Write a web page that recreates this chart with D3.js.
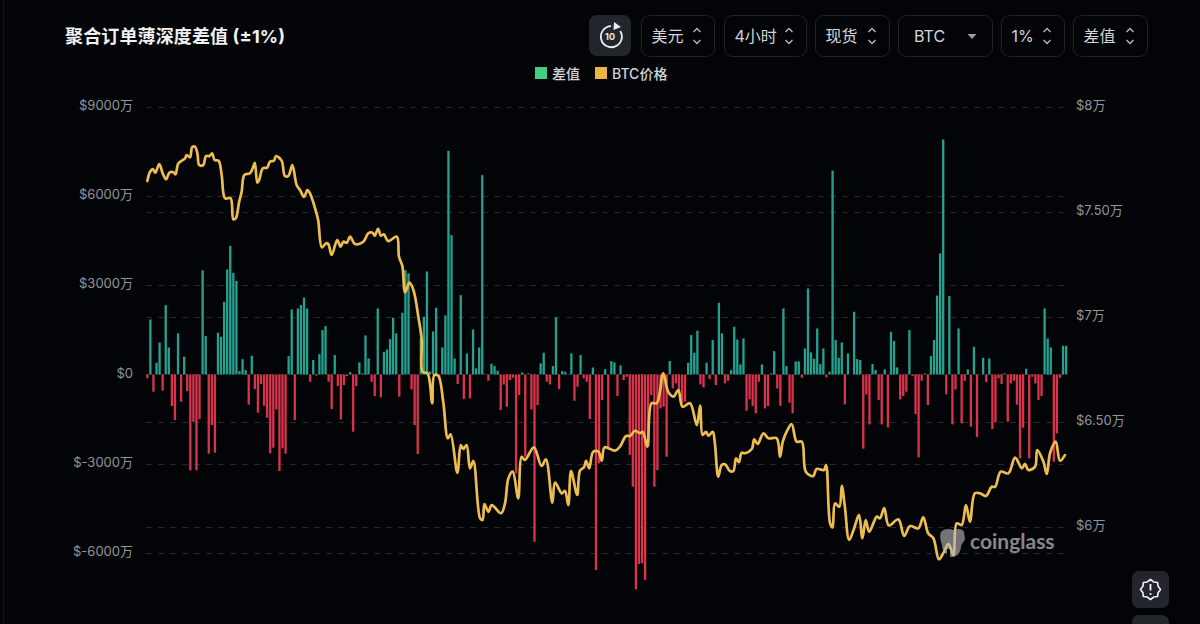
<!DOCTYPE html>
<html lang="zh">
<head>
<meta charset="utf-8">
<title>聚合订单薄深度差值</title>
<script src="https://cdn.jsdelivr.net/npm/d3@7/dist/d3.min.js"></script>
<style>
  html, body { margin: 0; padding: 0; background: #030408; }
  svg { display: block; font-family: Inter, "Noto Sans CJK SC", sans-serif; }
</style>
</head>
<body>
<svg id="chart" width="1200" height="624"></svg>
<script>
// Order-book depth delta per 4h bucket, in units of 万 USD
const deltaValues = [
  -130,1848,-582,392,1075,-549,2330,907,-1064,-1534,
  1378,-918,594,-560,-3226,-1590,-3226,-1500,3500,1288,
  -2666,-1702,-2632,1400,1266,2442,3530,4320,3414,3145,
  112,515,146,-1019,627,-493,-1288,-325,-1053,-1456,
  -2654,-2464,-1176,-3248,-2486,-2666,616,2184,-1534,2218,
  2330,2587,2218,-246,482,-40,683,1490,1624,-246,
  -1165,650,-392,-1512,-358,-60,78,-1926,-392,403,
  34,1310,538,-246,-728,2218,-773,762,840,1187,
  1904,1378,-750,2072,3506,3394,-504,-1702,-2677,1210,
  1938,3461,100,1445,2240,-130,907,1982,7515,4682,
  538,-325,2666,-829,706,-806,1512,202,907,6698,
  0,-213,358,280,123,-1198,-340,-1086,-190,-110,
  -3326,-694,67,-2766,34,-1176,-5622,-1030,370,728,
  -246,-336,280,1915,-493,112,90,0,706,-885,
  -414,650,-134,-246,-1500,235,-6574,-2990,-862,175,
  -2486,448,404,-728,302,-190,-78,-2710,-3774,-7224,
  -6373,-6350,-6910,-2430,-694,-3774,-3214,-1142,-1086,-2766,
  450,-470,-302,-526,-974,-918,392,1322,728,1467,
  -336,-437,392,-157,1154,-358,2408,1378,-302,-213,
  146,1602,1176,336,1210,-1221,-840,-1064,-1310,-246,
  336,-1142,-1064,34,784,-470,-1053,2218,280,-952,
  -1310,437,437,-112,874,2890,739,526,1546,347,
  874,-100,90,6854,1154,560,1075,-1008,706,0,
  2106,515,482,-2498,-672,-1680,347,146,-862,-1680,
  168,-1781,1434,1120,235,-840,-728,-582,1490,-56,
  -1333,-2789,-213,34,-1030,616,1154,2650,4066,7900,
  -672,2632,-1680,-504,1546,-1646,-213,168,-1758,930,
  -2106,0,560,-258,538,-1837,-1613,-134,-325,34,
  -1590,-302,-213,-1019,-2822,-1792,190,-2822,-78,-302,
  -862,-728,2218,1210,907,-2934,-1982,-112,963,963
];

// BTC price turning points: bucket position and USD price
const priceAt = [
  0,0.9,1.8,2.6,3.9,5,6.1,7.2,8.5,9.2,10.1,12.3,12.8,13.9,14.6,15.5,16.3,16.9,18.2,19.1,
  20.2,21.1,21.9,23.2,24.2,25.3,27.1,28,28.8,29.9,30.7,31.6,33.4,34.3,35,35.8,36.4,37.6,39,39.9,
  41.2,41.9,43.7,44.8,45.9,47.2,48.6,49.7,51,52.1,52.9,54.6,55.6,56.8,58.2,58.9,60,61.8,62.9,63.8,
  64.9,66,67.6,70.3,71.9,73.3,74,75.1,76,77,78.4,81.2,81.9,83,83.9,85.3,86.6,88.2,89.3,89.6,
  91.2,92.7,93.4,94.7,96.3,97.8,98.7,100.9,102,102.8,103.9,105,106.1,108.3,109.1,109.7,111,112.1,115.1,116.4,
  117.5,118.9,120.7,121.8,122.9,125.8,128.3,129.7,131.8,132.7,134.9,135.9,137,137.9,139.9,140.8,142.1,142.8,143.8,145.1,
  146.8,147.9,148.8,152.2,153.8,155.8,157.1,158.7,160.3,161.2,162.7,164.1,165.8,167.9,169.5,171.2,172.8,174.2,176.6,178.8,
  179.9,180.7,181.8,182.6,184,184.7,185.8,186.9,188,189.6,190.7,191.6,192.5,193.4,194.5,196.7,197.5,198.6,200.5,202.1,
  204.8,205.9,206.8,208.3,209.7,211.3,213,214.3,216.7,217.8,220.2,220.9,222.2,223,223.8,225.2,226,227,228.4,230,
  231.6,232.7,233.8,234.9,237.4,238.4,239.8,241.3,244.4,246.3,248.2,250.9,252.5,254.1,255.8,257.6,259,260.7,262.3,263.4,
  265,266.4,267.7,269.3,271,272.9,274.8,275.9,277.7,280.2,282.4,284.6,285.6,286.7,288.9,289.6,291.6,292.7,293.8,295.6,
  297,298.6
];
const priceValues = [
  76460,76900,77030,76860,77270,76830,76540,76860,76880,76780,77300,77540,77700,77590,78070,78100,77780,77220,77220,77650,
  77650,77780,77460,77430,76750,75640,75640,74640,74690,75480,75950,76750,76830,77070,77330,76380,76510,77070,77100,77380,
  77430,77650,77430,76700,76700,77220,76270,76030,75710,76030,75880,75160,74600,73300,73500,73460,72940,73650,73330,73570,
  73520,73810,73460,73570,73970,74000,73860,74180,73860,73920,73600,73810,72860,72410,71160,71620,71270,70000,68890,67380,
  67300,65880,67220,67180,65950,64210,64400,62570,63890,63700,63890,62780,63130,60400,60320,61080,60710,61030,60640,61110,
  62300,62620,61350,63330,63180,63780,62890,63210,61140,62100,61590,61710,61030,62650,61510,62670,62830,63140,62780,63570,
  63570,63140,63780,63620,63810,64320,64320,64570,64450,64520,63810,65880,65880,67300,66430,66190,66510,65710,65880,64840,
  65770,64370,64520,64330,64520,63970,62380,62940,62970,62650,62650,63260,63070,63520,63500,63700,64160,63940,64450,64210,
  64210,63330,64050,64600,64880,64050,64050,62620,62410,62750,62700,62940,60160,59970,61110,60950,61940,60950,59370,59920,
  60560,59450,60320,59760,60480,60400,60880,60060,60350,59560,60030,59920,60450,59690,59450,58450,58730,59180,58650,60160,
  60080,61030,60240,61590,61590,61460,61900,61900,62620,62540,63290,62780,62990,62700,62860,63650,63100,62510,63520,64050,
  63140,63410
];

// Axis ticks
const deltaTicks = [9000, 6000, 3000, 0, -3000, -6000];
const priceTicks = [80000, 75000, 70000, 65000, 60000];

// Toolbar and legend wording
const selectors = ["美元", "4小时", "现货", "BTC", "1%", "差值"];
const legendLabels = ["差值", "BTC价格"];

const colors = {
  bg: "#030408", grid: "#26292e", axis: "#93969b", up: "#25a28f", down: "#d9344c",
  line: "#eebd50", legendUp: "#3fcf80", legendLine: "#edb540",
  button: "#22252b", border: "#1f2227", text: "#d2d4d7"
};

const svg = d3.select("#chart");
svg.append("rect").attr("width", 1200).attr("height", 624).attr("fill", colors.bg);
svg.append("line").attr("x1", 3.5).attr("x2", 3.5).attr("y1", 0).attr("y2", 624)
  .attr("stroke", "#15171b");

// Scales
const x = d3.scaleBand().domain(d3.range(deltaValues.length))
  .range([145.76, 1067.66]).paddingInner(0.25).paddingOuter(0.125);
const xPos = d3.scaleLinear().domain([0, deltaValues.length - 1])
  .range([x(0) + x.bandwidth() / 2, x(deltaValues.length - 1) + x.bandwidth() / 2]);
const yDelta = d3.scaleLinear().domain([-6000, 9000]).range([552.9, 106.7]);
const yPrice = d3.scaleLinear().domain([60000, 80000]).range([526.7, 106.7]);

// Dashed grid for both value axes
const grid = svg.append("g").attr("stroke", colors.grid).attr("stroke-dasharray", "6 6");
grid.selectAll(".gl").data(deltaTicks).join("line")
  .attr("x1", 146).attr("x2", 1067)
  .attr("y1", d => Math.round(yDelta(d)) + 0.5).attr("y2", d => Math.round(yDelta(d)) + 0.5);
grid.selectAll(".gr").data(priceTicks.slice(1)).join("line")
  .attr("x1", 146).attr("x2", 1067)
  .attr("y1", d => Math.round(yPrice(d)) + 0.5).attr("y2", d => Math.round(yPrice(d)) + 0.5);

// Axes, labels only
const fmtDelta = d => d === 0 ? "$0" : (d < 0 ? "$-" + (-d) : "$" + d) + "万";
const fmtPrice = d => "$" + d3.format(".2~f")(d / 10000) + (d % 10000 ? "0" : "") + "万";

function axisStyle(g) {
  g.select(".domain").remove();
  g.selectAll(".tick line").remove();
  g.selectAll("text").attr("fill", colors.axis).attr("font-size", 13).attr("y", -1.5)
    .attr("font-family", 'Inter, "Noto Sans CJK SC", sans-serif');
}
svg.append("g").attr("transform", "translate(133,0)")
  .call(d3.axisLeft(yDelta).tickValues(deltaTicks).tickFormat(fmtDelta).tickSize(0).tickPadding(0))
  .call(axisStyle);
svg.append("g").attr("transform", "translate(1076,0)")
  .call(d3.axisRight(yPrice).tickValues(priceTicks).tickFormat(fmtPrice).tickSize(0).tickPadding(0))
  .call(axisStyle);

// Delta bars
svg.append("g").selectAll("rect").data(deltaValues).join("rect")
  .attr("x", (d, i) => x(i))
  .attr("width", x.bandwidth())
  .attr("y", d => yDelta(Math.max(d, 0)))
  .attr("height", d => Math.abs(yDelta(d) - yDelta(0)))
  .attr("fill", d => d >= 0 ? colors.up : colors.down);

// Price line
const priceLine = d3.line()
  .x(d => xPos(d[0])).y(d => yPrice(d[1]))
  .curve(d3.curveCatmullRom.alpha(0.5));
svg.append("path").datum(d3.zip(priceAt, priceValues))
  .attr("d", priceLine)
  .attr("fill", "none").attr("stroke", colors.line)
  .attr("stroke-width", 2.7).attr("stroke-linejoin", "round").attr("stroke-linecap", "round");

// Watermark
const mark = svg.append("g").attr("opacity", 0.62);
mark.append("path")
  .attr("fill", "#b8b8ba")
  .attr("d", "M941 532 C945 528 950 529 953 530 C957 529 962 528 964 532 L965 539 C964 542 962 543 961 546 C961 551 958 557 952 557 L950 557 L950 549 L947 549 L947 554 C944 553 942 549 942 545 C941 541 939 537 941 532 Z");
mark.append("text").attr("x", 970).attr("y", 549).attr("fill", "#d8d8da")
  .attr("font-family", "Lato, Inter, sans-serif").attr("font-size", 21).attr("font-weight", 700)
  .text("coinglass");

// Title
svg.append("text").attr("x", 65).attr("y", 42.5).attr("fill", "#f0f1f2")
  .attr("font-size", 18).attr("font-weight", 700).attr("textLength", 220).text("聚合订单薄深度差值 (±1%)");

// Legend
const legend = [
  { sx: 535, tx: 552, c: colors.legendUp, t: legendLabels[0] },
  { sx: 595, tx: 612, c: colors.legendLine, t: legendLabels[1] }
];
legend.forEach(l => {
  svg.append("rect").attr("x", l.sx).attr("y", 67).attr("width", 12).attr("height", 12).attr("fill", l.c);
  svg.append("text").attr("x", l.tx).attr("y", 78.5).attr("fill", colors.text)
    .attr("font-size", 14).attr("font-weight", 500).text(l.t);
});

// Toolbar
const boxes = [
  { x: 641, w: 73 }, { x: 724, w: 82 }, { x: 815, w: 74 },
  { x: 898, w: 94, caret: true }, { x: 1001, w: 63 }, { x: 1073, w: 74 }
];
const bar = svg.append("g");
boxes.forEach((b, i) => {
  bar.append("rect").attr("x", b.x + 0.5).attr("y", 15.5).attr("width", b.w).attr("height", 41).attr("rx", 8)
    .attr("fill", "none").attr("stroke", colors.border);
  bar.append("text").attr("x", b.caret ? b.x + 16 : b.x + 10.5).attr("y", 42).attr("fill", colors.text)
    .attr("font-size", 16).text(selectors[i]);
  if (b.caret) {
    const cx = b.x + 74;
    bar.append("path").attr("d", `M${cx - 4.5} 34 L${cx + 4.5} 34 L${cx} 39 Z`).attr("fill", "#9a9ca0");
  } else {
    const cx = b.x + b.w - 17;
    bar.append("path").attr("fill", "none").attr("stroke", "#b9bbbe").attr("stroke-width", 1.3)
      .attr("d", `M${cx - 3.5} 32 L${cx} 28.5 L${cx + 3.5} 32 M${cx - 3.5} 40 L${cx} 43.5 L${cx + 3.5} 40`);
  }
});

// Replay-10 button
bar.append("rect").attr("x", 589).attr("y", 15).attr("width", 42).attr("height", 41).attr("rx", 8).attr("fill", colors.button);
bar.append("path").attr("fill", "none").attr("stroke", "#eceded").attr("stroke-width", 1.8)
  .attr("d", "M611 26.2 A10.5 10.5 0 1 0 620.2 31");
bar.append("path").attr("fill", "#eceded").attr("d", "M614 22 L621 27 L613.5 30 Z");
bar.append("text").attr("x", 610).attr("y", 39.5).attr("text-anchor", "middle").attr("fill", "#eceded")
  .attr("font-size", 9).attr("font-weight", 700).text("10");

// Floating corner buttons
svg.append("rect").attr("x", 1132).attr("y", 571).attr("width", 37).attr("height", 37).attr("rx", 7).attr("fill", colors.button);
svg.append("rect").attr("x", 1132).attr("y", 615).attr("width", 37).attr("height", 37).attr("rx", 7).attr("fill", colors.button);
const badgePts = d3.range(16).map(k => {
  const a = k * Math.PI / 8, r = k % 2 ? 8.2 : 10;
  return [1150.5 + r * Math.sin(a), 589.5 - r * Math.cos(a)];
});
svg.append("path").attr("d", d3.line().curve(d3.curveLinearClosed)(badgePts))
  .attr("fill", "none").attr("stroke", "#f2f2f2").attr("stroke-width", 1.6).attr("stroke-linejoin", "round");
svg.append("line").attr("x1", 1150.5).attr("x2", 1150.5).attr("y1", 584).attr("y2", 590.5)
  .attr("stroke", "#f2f2f2").attr("stroke-width", 1.8);
svg.append("circle").attr("cx", 1150.5).attr("cy", 594).attr("r", 1.1).attr("fill", "#f2f2f2");
</script>
</body>
</html>
